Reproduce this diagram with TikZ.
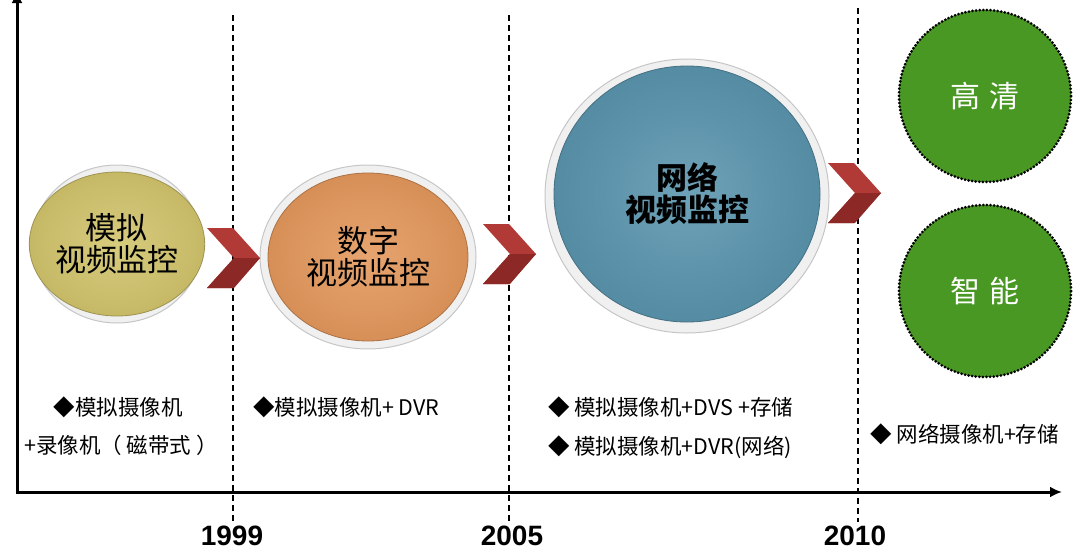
\documentclass[tikz,border=0pt]{standalone}
\usepackage{fontspec}
\setmainfont{Noto Sans CJK SC}
\newfontfamily\yearfont{Liberation Sans}
\usetikzlibrary{shapes.geometric,arrows.meta}
\definecolor{yelc}{RGB}{210,196,108}
\definecolor{orac}{RGB}{228,152,92}
\definecolor{bluc}{RGB}{90,149,174}
\definecolor{grnc}{RGB}{74,152,36}
\definecolor{chevc}{RGB}{178,58,54}
\definecolor{chevd}{RGB}{140,40,38}
\tikzset{
  axisline/.style={line width=3pt,-{Latex[length=12pt,width=11pt]}},
  yearline/.style={line width=1.3pt,dash pattern=on 6pt off 4pt},
  rim/.style={ellipse,draw=gray!45,line width=1pt,fill=gray!12,inner sep=0pt},
  disc/.style={ellipse,inner sep=0pt,draw=#1!75!black,line width=0.8pt,
    inner color=#1!88!white,outer color=#1!94!black,font=\fontsize{31}{36}\selectfont,align=center},
  green/.style={circle,inner sep=0pt,minimum size=172pt,fill=grnc,draw=black,
    line width=3pt,line cap=round,dash pattern=on 0pt off 3.6pt,text=white,font=\fontsize{30}{36}\selectfont},
  bullet/.style={font=\fontsize{21.5}{38}\selectfont,align=left,inner sep=0pt},
  year/.style={font=\yearfont\bfseries\fontsize{28}{32}\selectfont,inner sep=0pt},
  chev/.style={fill=chevc}
}
\begin{document}
\begin{tikzpicture}[x=1pt,y=-1pt]
\useasboundingbox (0,0) rectangle (1080,560);
% axes
\coordinate (o) at (17,492);
\coordinate (ytop) at (17,-9);
\coordinate (xend) at (1062,492);
\coordinate (o1) at (17,493.5);
\coordinate (o2) at (15.5,492);
\draw[axisline] (o1) -- (ytop);
\draw[axisline] (o2) -- (xend);
% year lines
\coordinate (d1t) at (233,15); \coordinate (d1b) at (233,522);
\coordinate (d2t) at (509,15); \coordinate (d2b) at (509,522);
\coordinate (d3t) at (858,8);  \coordinate (d3b) at (858,522);
\draw[yearline] (d1t) -- (d1b);
\draw[yearline] (d2t) -- (d2b);
\draw[yearline] (d3t) -- (d3b);
\node[year] (y1) at (232,536) {1999};
\node[year] (y2) at (512,536) {2005};
\node[year] (y3) at (855,536) {2010};
% discs
\node[rim,minimum width=170pt,minimum height=158pt] (r1) at (117,244) {};
\node[disc=yelc,minimum width=156pt,minimum height=144pt] (c1) at (117,244) {模拟\\[-4pt]视频监控};
\node[rim,minimum width=216pt,minimum height=184pt] (r2) at (368,257) {};
\node[disc=orac,minimum width=200pt,minimum height=168pt] (c2) at (368,257) {数字\\[-4pt]视频监控};
\node[rim,minimum width=284pt,minimum height=274pt] (r3) at (687,196) {};
\node[disc=bluc,minimum width=266pt,minimum height=256pt,font=\bfseries\fontsize{31}{36}\selectfont] (c3) at (687,194) {网络\\[-4pt]视频监控};
\node[green] (g1) at (985,96) {高\,\,清};
\node[green] (g2) at (985,291) {智\,\,能};
% chevrons
\foreach \cx/\cy in {207/228,483/224,828/163}{
  \fill[chevc] (\cx,\cy) -- ++(26,0) -- ++(27,30) -- ++(-27,30) -- ++(-26,0) -- ++(27,-30) -- cycle;
  \fill[chevd] (\cx+27,\cy+30) -- ++(26,0) -- ++(-26,30) -- ++(-27,0) -- cycle;
}
% bullets
\node[bullet,anchor=center] (b1) at (118,407) {◆模拟摄像机};
\node[bullet,anchor=west] (b1b) at (24,445) {+录像机（ 磁带式 ）};
\node[bullet,anchor=west] (b2) at (253,407) {◆模拟摄像机+ DVR};
\node[bullet,anchor=west] (b3) at (548,407) {◆ 模拟摄像机+DVS +存储};
\node[bullet,anchor=west] (b4) at (548,447) {◆ 模拟摄像机+DVR(网络)};
\node[bullet,anchor=west] (b5) at (870,434) {◆ 网络摄像机+存储};
\end{tikzpicture}
\end{document}
